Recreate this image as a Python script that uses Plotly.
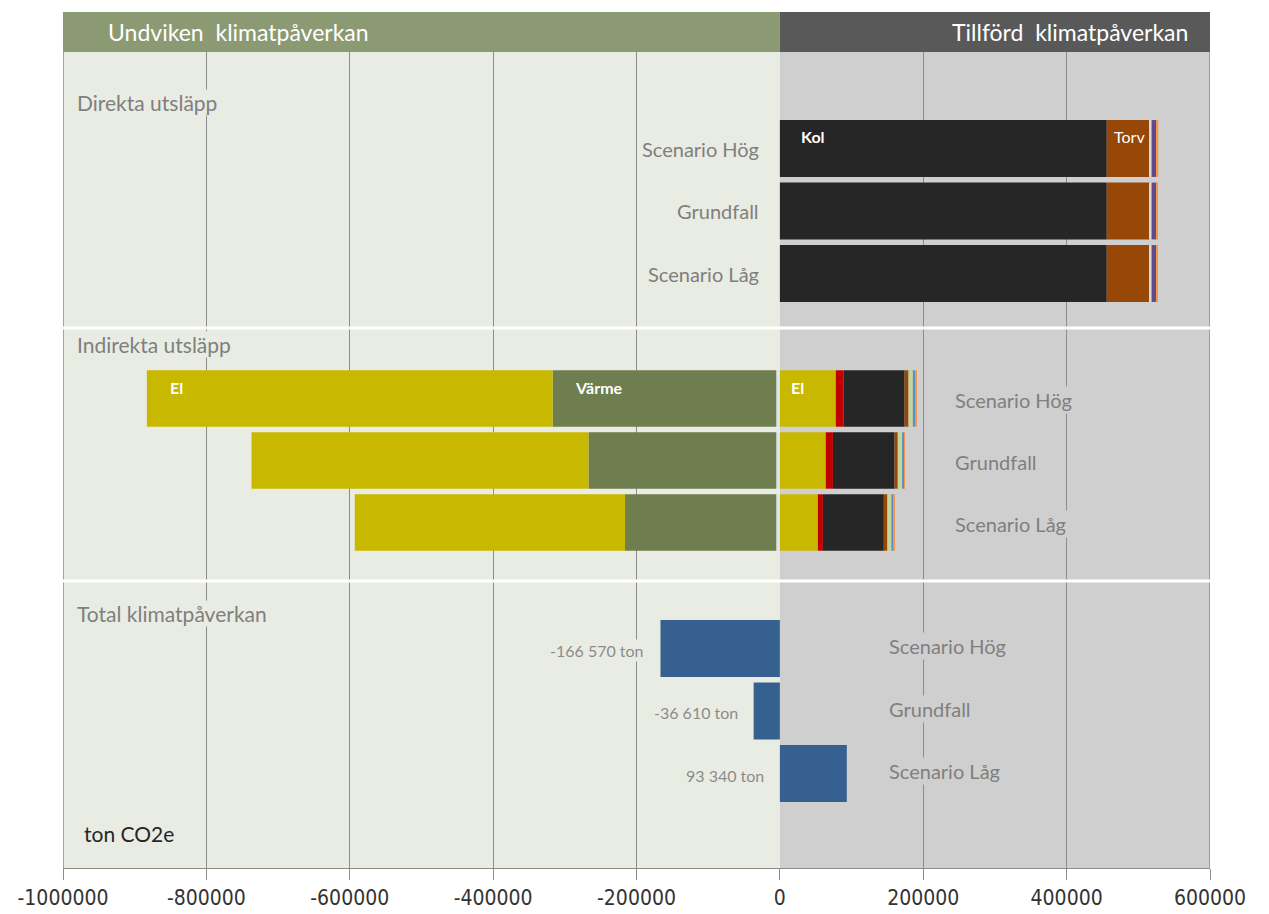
import plotly.graph_objects as go
from plotly.subplots import make_subplots

# Scenarios, top to bottom within each panel
scenarios = ["Scenario Hög", "Grundfall", "Scenario Låg"]

# Direct emissions (ton CO2e)
direkt_kol = [456000, 456000, 456000]
direkt_torv = [60000, 60000, 60000]
direkt_ovrigt = [2500, 2500, 2500]
direkt_olja = [7500, 6500, 6500]
direkt_gas = [1800, 1800, 1800]

# Indirect emissions, avoided (negative) side
indirekt_rest_neg = [-5000, -5000, -5000]
indirekt_varme_neg = [-312000, -262000, -211000]
indirekt_el_neg = [-566000, -470000, -377000]

# Indirect emissions, added (positive) side
indirekt_el = [78000, 64000, 53000]
indirekt_olja = [11000, 10000, 7000]
indirekt_kol = [85000, 86000, 85000]
indirekt_torv = [5500, 4500, 5000]
indirekt_bio = [6000, 6000, 5500]
indirekt_gas = [3000, 3000, 3000]
indirekt_avfall = [1500, 1000, 1000]

# Net climate impact
total = [-166570, -36610, 93340]

x_ticks = [-1000000, -800000, -600000, -400000, -200000, 0, 200000, 400000, 600000]
x_ticktext = ["-1000000", "-800000", "-600000", "-400000", "-200000",
              "0", "200000", "400000", "600000"]

C_EL = "#C8B800"
C_VARME = "#6F7E4E"
C_KOL = "#262626"
C_TORV = "#974706"
C_RED = "#C00000"
C_PURPLE = "#5F4B8B"
C_ORANGE = "#F79646"
C_LGREEN = "#C3D69B"
C_BLUE = "#558ED5"
C_LIGHT = "#DCE6EE"
C_TOTAL = "#35608F"
BG_LEFT = "#E9ECE2"
BG_RIGHT = "#CFCFCF"
GRID = "#8C8C8C"
TXT = "#7F7F7F"
FONT = "Lato, 'Open Sans', sans-serif"

fig = make_subplots(rows=3, cols=1, shared_xaxes=True, vertical_spacing=0,
                    row_heights=[276, 253, 287])


def add_bar(row, values, color, name):
    fig.add_trace(go.Bar(x=values, y=scenarios, orientation="h", name=name,
                         marker=dict(color=color, line=dict(width=0)),
                         showlegend=False, hoverinfo="x+name"), row=row, col=1)


# Panel 1: direct emissions
add_bar(1, direkt_kol, C_KOL, "Kol")
add_bar(1, direkt_torv, C_TORV, "Torv")
add_bar(1, direkt_ovrigt, "#D9D9D9", "Övrigt")
add_bar(1, direkt_olja, C_PURPLE, "Olja")
add_bar(1, direkt_gas, C_ORANGE, "Gas")

# Panel 2: indirect emissions
add_bar(2, indirekt_rest_neg, C_LIGHT, "Övrigt")
add_bar(2, indirekt_varme_neg, C_VARME, "Värme")
add_bar(2, indirekt_el_neg, C_EL, "El")
add_bar(2, indirekt_el, C_EL, "El")
add_bar(2, indirekt_olja, C_RED, "Olja")
add_bar(2, indirekt_kol, C_KOL, "Kol")
add_bar(2, indirekt_torv, C_TORV, "Torv")
add_bar(2, indirekt_bio, C_LGREEN, "Bio")
add_bar(2, indirekt_gas, C_BLUE, "Gas")
add_bar(2, indirekt_avfall, C_ORANGE, "Avfall")

# Panel 3: total
add_bar(3, total, C_TOTAL, "Total klimatpåverkan")

fig.update_layout(
    width=1269, height=914,
    margin=dict(l=63, r=59, t=52, b=46, autoexpand=False),
    paper_bgcolor="white", plot_bgcolor="rgba(0,0,0,0)",
    barmode="relative", bargap=0.09,
    font=dict(family=FONT, color=TXT),
)

for i in (1, 2, 3):
    fig.update_xaxes(row=i, col=1, range=[-1000000, 600000],
                     tickmode="array", tickvals=x_ticks, ticktext=x_ticktext,
                     showgrid=True, gridcolor=GRID, gridwidth=1,
                     zeroline=True, zerolinecolor="rgba(0,0,0,0)",
                     showticklabels=(i == 3), fixedrange=True, automargin=False)
fig.update_xaxes(row=3, col=1, ticks="outside", ticklen=11, tickcolor=GRID,
                 showline=True, linecolor=GRID, linewidth=1,
                 tickfont=dict(family="'Liberation Sans Narrow', 'DejaVu Sans Condensed', sans-serif",
                               size=21, color="#333333"),
                 ticklabelstandoff=0)

y_ranges = {1: [2.872, -1.544], 2: [2.944, -1.137], 3: [3.512, -1.08]}
for i, rng in y_ranges.items():
    fig.update_yaxes(row=i, col=1, type="category", categoryarray=scenarios,
                     range=rng, showticklabels=False, showgrid=False,
                     zeroline=False, fixedrange=True, automargin=False)

shapes = [
    # background halves
    dict(type="rect", xref="x", yref="paper", x0=-1000000, x1=0, y0=0, y1=1,
         fillcolor=BG_LEFT, line=dict(width=0), layer="below"),
    dict(type="rect", xref="x", yref="paper", x0=0, x1=600000, y0=0, y1=1,
         fillcolor=BG_RIGHT, line=dict(width=0), layer="below"),
    # header bands
    dict(type="rect", xref="x", yref="paper", x0=-1000000, x1=0, y0=1, y1=1.049,
         fillcolor="#8C9A73", line=dict(width=0)),
    dict(type="rect", xref="x", yref="paper", x0=0, x1=600000, y0=1, y1=1.049,
         fillcolor="#595959", line=dict(width=0)),
    # outer borders
    dict(type="line", xref="x", yref="paper", x0=-1000000, x1=-1000000, y0=0, y1=1,
         line=dict(color=GRID, width=1.5)),
    dict(type="line", xref="x", yref="paper", x0=600000, x1=600000, y0=0, y1=1,
         line=dict(color=GRID, width=1.5)),
]
# white separators between the panels
for yp in ((868 - 328) / 816, (868 - 581) / 816):
    shapes.append(dict(type="line", xref="x", yref="paper", x0=-1000000, x1=600000,
                       y0=yp, y1=yp, line=dict(color="white", width=3), layer="above"))
fig.update_layout(shapes=shapes)

ann = []
# header titles
ann.append(dict(text="Undviken  klimatpåverkan", xref="paper", yref="paper",
                x=(106 - 63) / 1147, y=1.0245, xanchor="left", yanchor="middle",
                showarrow=False, font=dict(size=23, color="white", family=FONT)))
ann.append(dict(text="Tillförd  klimatpåverkan", xref="paper", yref="paper",
                x=(1190 - 63) / 1147, y=1.0245, xanchor="right", yanchor="middle",
                showarrow=False, font=dict(size=23, color="white", family=FONT)))

# panel titles
for text, ypx in (("Direkta utsläpp", 102), ("Indirekta utsläpp", 345),
                  ("Total klimatpåverkan", 613)):
    ann.append(dict(text=text, xref="paper", yref="paper", x=(76 - 63) / 1147,
                    y=(868 - ypx) / 816, xanchor="left", yanchor="middle",
                    showarrow=False, bgcolor=BG_LEFT, borderpad=0,
                    font=dict(size=21, color=TXT, family=FONT)))
ann.append(dict(text="ton CO2e", xref="paper", yref="paper", x=(82 - 63) / 1147,
                y=(868 - 833) / 816, xanchor="left", yanchor="middle",
                showarrow=False, bgcolor=BG_LEFT,
                font=dict(size=21, color="#262626", family=FONT)))

# scenario names per panel
sc_font = dict(size=20, color=TXT, family=FONT)
for s in scenarios:
    ann.append(dict(text=s, xref="x", yref="y", x=0, y=s, xanchor="right",
                    yanchor="middle", xshift=-19, yshift=0, showarrow=False,
                    bgcolor=BG_LEFT, font=sc_font))
    ann.append(dict(text=s, xref="x2", yref="y2", x=241000, y=s, xanchor="left",
                    yanchor="middle", yshift=-2, showarrow=False,
                    bgcolor=BG_RIGHT, font=sc_font))
    ann.append(dict(text=s, xref="x3", yref="y3", x=149000, y=s, xanchor="left",
                    yanchor="middle", yshift=2, showarrow=False,
                    bgcolor=BG_RIGHT, font=sc_font))

# values of the net bars
for s, v in zip(scenarios, total):
    label = f"{v:,}".replace(",", " ") + " ton"
    ann.append(dict(text=label, xref="x3", yref="y3", x=min(v, 0), y=s,
                    xanchor="right", yanchor="middle", xshift=-14, yshift=-2,
                    showarrow=False, bgcolor=BG_LEFT,
                    font=dict(size=16, color="#8C8C8C", family=FONT)))

# segment names inside the top bars
inbar = dict(size=16, color="white", family=FONT)
top = scenarios[0]
ann.append(dict(text="<b>Kol</b>", xref="x", yref="y", x=0, y=top, xanchor="left",
                yanchor="middle", xshift=19, yshift=12, showarrow=False, font=inbar))
ann.append(dict(text="Torv", xref="x", yref="y", x=direkt_kol[0], y=top,
                xanchor="left", yanchor="middle", xshift=5, yshift=12,
                showarrow=False, font=inbar))
neg_end = indirekt_rest_neg[0] + indirekt_varme_neg[0] + indirekt_el_neg[0]
ann.append(dict(text="<b>El</b>", xref="x2", yref="y2", x=neg_end, y=top,
                xanchor="left", yanchor="middle", xshift=21, yshift=11,
                showarrow=False, font=inbar))
ann.append(dict(text="<b>Värme</b>", xref="x2", yref="y2",
                x=indirekt_rest_neg[0] + indirekt_varme_neg[0], y=top,
                xanchor="left", yanchor="middle", xshift=20, yshift=11,
                showarrow=False, font=inbar))
ann.append(dict(text="<b>El</b>", xref="x2", yref="y2", x=0, y=top,
                xanchor="left", yanchor="middle", xshift=9, yshift=11,
                showarrow=False, font=inbar))

fig.update_layout(annotations=ann)

fig.write_html("out.html")
